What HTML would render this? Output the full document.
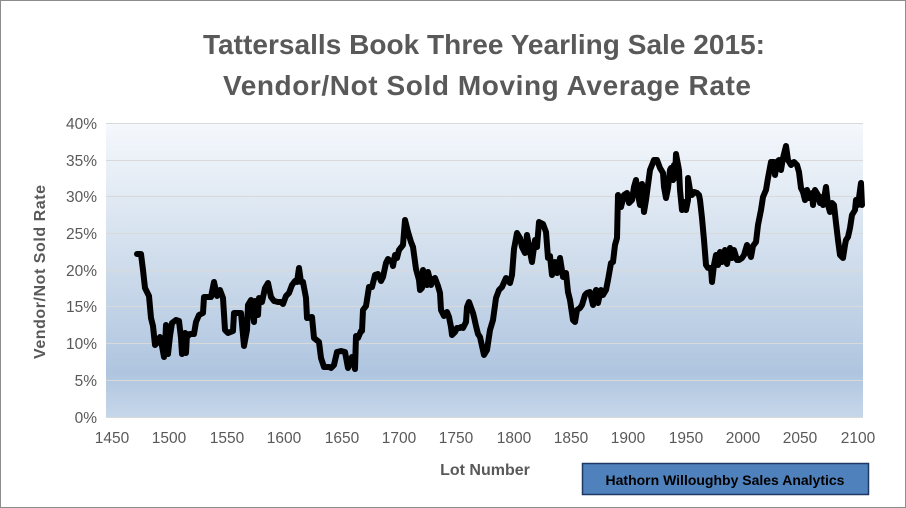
<!DOCTYPE html>
<html><head><meta charset="utf-8"><style>
body{margin:0;background:#fff}
svg{display:block}
text{font-family:"Liberation Sans",sans-serif}
</style></head><body>
<svg width="906" height="508" viewBox="0 0 906 508">
<defs>
<linearGradient id="g" x1="0" y1="0" x2="0" y2="1">
<stop offset="0" stop-color="#f5f8fc"/>
<stop offset="0.5" stop-color="#cddbeb"/>
<stop offset="0.85" stop-color="#afc5df"/>
<stop offset="1" stop-color="#c7d7ea"/>
</linearGradient>
</defs>
<rect x="0.5" y="0.5" width="905" height="507" fill="#fff" stroke="#8c8c8c"/>
<text x="484" y="54" text-anchor="middle" font-size="28" font-weight="bold" fill="#595959" textLength="562">Tattersalls Book Three Yearling Sale 2015:</text>
<text x="487" y="95" text-anchor="middle" font-size="28" font-weight="bold" fill="#595959" textLength="528">Vendor/Not Sold Moving Average Rate</text>
<rect x="106" y="123" width="757" height="294" fill="url(#g)"/>
<g stroke="#d9d9d9" stroke-width="1">
<line x1="106" x2="863" y1="123.5" y2="123.5"/>
<line x1="106" x2="863" y1="160.5" y2="160.5"/>
<line x1="106" x2="863" y1="196.5" y2="196.5"/>
<line x1="106" x2="863" y1="233.5" y2="233.5"/>
<line x1="106" x2="863" y1="270.5" y2="270.5"/>
<line x1="106" x2="863" y1="306.5" y2="306.5"/>
<line x1="106" x2="863" y1="343.5" y2="343.5"/>
<line x1="106" x2="863" y1="380.5" y2="380.5"/>
<line x1="106" x2="863" y1="417.5" y2="417.5"/>
</g>
<g font-size="15.5" fill="#595959" text-anchor="end">
<text x="97" y="129">40%</text><text x="97" y="166">35%</text><text x="97" y="202">30%</text>
<text x="97" y="239">25%</text><text x="97" y="276">20%</text><text x="97" y="312">15%</text>
<text x="97" y="349">10%</text><text x="97" y="386">5%</text><text x="97" y="423">0%</text>
</g>
<g font-size="15.5" fill="#595959" text-anchor="middle">
<text x="112" y="443">1450</text><text x="169" y="443">1500</text><text x="227" y="443">1550</text>
<text x="284" y="443">1600</text><text x="342" y="443">1650</text><text x="399" y="443">1700</text>
<text x="456" y="443">1750</text><text x="514" y="443">1800</text><text x="571" y="443">1850</text>
<text x="628" y="443">1900</text><text x="686" y="443">1950</text><text x="743" y="443">2000</text>
<text x="800" y="443">2050</text><text x="858" y="443">2100</text>
</g>
<text x="485" y="475" text-anchor="middle" font-size="16" font-weight="bold" fill="#595959">Lot Number</text>
<text transform="translate(45,272) rotate(-90)" text-anchor="middle" font-size="16" font-weight="bold" fill="#595959" textLength="174">Vendor/Not Sold  Rate</text>
<polyline fill="none" stroke="#000" stroke-width="6" stroke-linejoin="round" stroke-linecap="round" points="137,254 141,254 143,270 145,288 149,296 151,318 153,326 155,345 157,343 160,337 162,346 164,357 165,348 166,325 168,354 170,336 172,323 176,320 179,321 181,338 182,354 185,333 186,353 187,334 188,336 190,334 194,334 196,322 199,315 203,313 204,297 207,297 211,297 214,282 217,296 219,292 220,290 223,298 225,330 228,333 233,331 234,313 239,313 241,313 244,346 247,330 248,305 251,300 254,322 255,301 258,315 259,298 262,302 265,288 268,283 271,297 274,301 278,302 281,302 283,304 286,296 289,293 292,285 295,281 297,282 299,268 301,282 303,282 306,298 307,318 312,317 314,338 319,342 321,358 324,367 326,367 329,367 331,368 334,365 337,352 341,351 345,352 348,368 352,357 355,369 356,336 358,338 361,331 362,331 363,310 366,306 369,287 372,287 375,275 378,274 381,281 383,277 386,263 388,259 392,262 393,266 395,255 397,258 399,250 403,245 405,220 408,232 411,242 413,247 416,269 419,280 420,290 422,288 423,270 425,277 427,285 428,272 429,276 431,285 432,280 435,278 438,286 440,293 441,310 444,316 447,312 449,317 451,327 452,335 455,332 457,328 460,328 461,327 463,328 466,322 467,307 469,302 473,313 474,317 476,326 478,334 480,337 484,355 487,350 490,330 493,320 496,298 499,290 502,287 506,278 510,283 512,275 514,249 517,233 520,238 522,247 525,253 527,235 530,252 532,262 535,240 537,247 539,222 543,224 546,232 548,258 550,256 552,275 555,262 557,273 560,258 563,277 566,273 568,292 570,300 573,320 575,322 577,310 580,308 582,305 585,295 587,293 590,292 593,305 596,290 598,303 601,290 603,295 606,290 608,280 611,263 613,262 615,245 617,238 618,195 621,207 624,195 627,193 629,203 632,200 634,187 636,180 638,195 640,205 642,184 644,212 646,200 648,185 650,170 654,160 657,160 660,168 663,173 664,187 666,198 668,188 670,170 671,168 673,180 674,165 675,178 676,154 679,170 680,190 682,210 684,202 686,210 688,200 688,178 690,190 692,195 694,192 697,193 699,195 700,200 702,218 704,240 706,265 708,268 711,268 712,282 714,265 716,255 718,265 720,252 722,262 725,250 727,264 730,248 732,258 734,250 737,260 739,260 742,258 744,255 747,245 749,252 751,257 753,246 756,242 758,225 761,210 763,197 766,190 768,178 771,162 774,162 775,175 777,162 779,160 781,170 783,158 786,146 788,160 791,165 794,162 797,165 799,172 801,188 803,192 805,200 807,190 809,198 812,193 813,205 815,190 818,195 820,203 822,197 823,205 826,187 828,205 830,212 832,203 834,205 836,223 838,240 840,255 843,258 845,245 846,240 848,237 850,228 852,215 855,210 856,200 858,205 861,183 862,205"/>
<rect x="582.5" y="463.5" width="286" height="31" fill="#4f81bd" stroke="#1f3864" stroke-width="1.5"/>
<text x="725" y="485" text-anchor="middle" font-size="14" font-weight="bold" fill="#000">Hathorn Willoughby Sales Analytics</text>
</svg>
</body></html>
